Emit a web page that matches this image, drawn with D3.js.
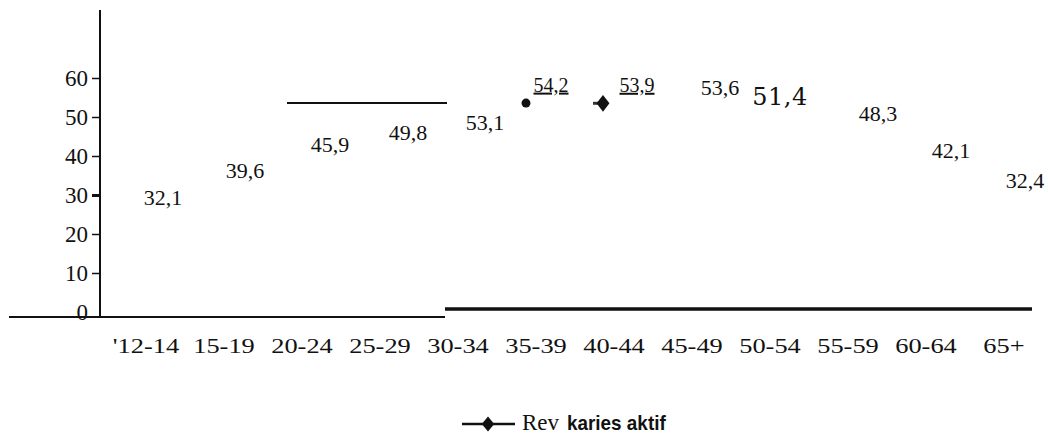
<!DOCTYPE html>
<html>
<head>
<meta charset="utf-8">
<script src="https://cdn.jsdelivr.net/npm/d3@7"></script>
<style>
  html, body { margin: 0; padding: 0; background: #fff; }
  #chart { width: 1048px; height: 439px; }
  text { font-family: "Liberation Serif", "Times New Roman", serif; fill: #111; }
</style>
</head>
<body>
<div id="chart"></div>
<script>
// age groups and the prevalence of active caries (%)
const ageGroups = ["'12-14", "15-19", "20-24", "25-29", "30-34", "35-39", "40-44", "45-49", "50-54", "55-59", "60-64", "65+"];
const kariesAktif = [32.1, 39.6, 45.9, 49.8, 53.1, 54.2, 53.9, 53.6, 51.4, 48.3, 42.1, 32.4];
const valueLabels = ["32,1", "39,6", "45,9", "49,8", "53,1", "54,2", "53,9", "53,6", "51,4", "48,3", "42,1", "32,4"];
const yTicks = [0, 10, 20, 30, 40, 50, 60];
const legendParts = ["Rev", "karies aktif"];

function draw() {
  const W = 1048, H = 439;
  d3.select("#chart").selectAll("svg").remove();

  const svg = d3.select("#chart")
    .append("svg")
    .attr("width", W)
    .attr("height", H)
    .attr("viewBox", `0 0 ${W} ${H}`);

  const x = d3.scaleBand()
    .domain(ageGroups)
    .range([107, 1043])
    .padding(0);

  const y = d3.scaleLinear()
    .domain([0, 60])
    .range([312, 78]);

  const cx = d => x(d) + x.bandwidth() / 2;

  // label nudges (layout only), relative to the point position
  const labelNudge = [[17, 18], [21, 20], [28, 19], [28, 22], [27, 25], [15, -9],
                      [23, -10], [28, -8], [10, -7], [30, -3], [25, 10], [21, 2]];

  // y axis
  const yAxis = svg.append("g")
    .attr("transform", "translate(100,0)")
    .call(d3.axisLeft(y).tickValues(yTicks).tickSize(8).tickPadding(4));
  yAxis.select(".domain").remove();
  yAxis.selectAll(".tick line")
    .attr("stroke", "#111")
    .attr("stroke-width", d => d === 30 ? 3 : 1.5)
    .attr("opacity", d => d === 0 ? 0 : 1);
  yAxis.selectAll(".tick text")
    .style("font-family", "'Liberation Serif', serif")
    .style("font-size", "23px")
    .attr("fill", "#111");

  svg.append("line")
    .attr("x1", 100).attr("x2", 100)
    .attr("y1", 10).attr("y2", y(0) + 6)
    .attr("stroke", "#111").attr("stroke-width", 2);

  // baseline, drawn in two pieces like the original
  const split = x("30-34") + 26;
  svg.append("line")
    .attr("x1", 9).attr("x2", split)
    .attr("y1", y(0) + 5).attr("y2", y(0) + 5)
    .attr("stroke", "#111").attr("stroke-width", 2);
  svg.append("line")
    .attr("x1", split).attr("x2", x("65+") + x.bandwidth() - 11)
    .attr("y1", y(0) - 3).attr("y2", y(0) - 3)
    .attr("stroke", "#111").attr("stroke-width", 3.5);

  // upper rule segment
  svg.append("line")
    .attr("x1", x("20-24") + 24).attr("x2", split + 2)
    .attr("y1", y(53.6)).attr("y2", y(53.6))
    .attr("stroke", "#111").attr("stroke-width", 2);

  // x axis labels
  const xAxis = svg.append("g")
    .attr("transform", "translate(0,353)")
    .call(d3.axisBottom(x).tickSize(0).tickPadding(0));
  xAxis.select(".domain").remove();
  xAxis.selectAll(".tick text")
    .attr("y", 0).attr("dy", 0)
    .attr("transform", "scale(1.2,1)")
    .style("font-family", "'Liberation Serif', serif")
    .style("font-size", "22px")
    .attr("fill", "#111");

  // markers that are still visible
  const markers = svg.append("g");
  markers.append("circle")
    .attr("cx", cx(ageGroups[5]) - 10)
    .attr("cy", y(kariesAktif[5]) + 2.5)
    .attr("r", 4.5)
    .attr("fill", "#111");
  const dx6 = cx(ageGroups[6]) - 11, dy6 = y(kariesAktif[6]) + 1.5;
  markers.append("line")
    .attr("x1", dx6 - 10).attr("x2", dx6)
    .attr("y1", dy6).attr("y2", dy6)
    .attr("stroke", "#333").attr("stroke-width", 3);
  markers.append("path")
    .attr("d", d3.symbol(d3.symbolDiamond, 100)())
    .attr("transform", `translate(${dx6},${dy6}) scale(1.2,0.9)`)
    .attr("fill", "#111");

  // value labels
  svg.append("g")
    .selectAll("text")
    .data(kariesAktif)
    .join("text")
    .attr("x", (d, i) => cx(ageGroups[i]) + labelNudge[i][0])
    .attr("y", (d, i) => y(d) + labelNudge[i][1])
    .attr("text-anchor", "middle")
    .style("font-size", (d, i) => i === 8 ? "24px" : (i === 5 || i === 6) ? "20px" : "22px")
    .style("font-family", (d, i) => i === 8 ? "'DejaVu Serif', serif" : "'Liberation Serif', serif")
    .style("letter-spacing", (d, i) => i === 8 ? "0.5px" : "0")
    .style("text-decoration", (d, i) => (i === 5 || i === 6) ? "underline" : "none")
    .text((d, i) => valueLabels[i]);

  // legend
  const lg = svg.append("g").attr("transform", "translate(462,424)");
  lg.append("line")
    .attr("x1", 0).attr("x2", 53)
    .attr("stroke", "#111").attr("stroke-width", 2.5);
  lg.append("path")
    .attr("d", d3.symbol(d3.symbolDiamond, 80)())
    .attr("transform", "translate(26,0) scale(1.3,0.9)")
    .attr("fill", "#111");
  lg.append("text")
    .attr("x", 60).attr("y", 6)
    .style("font-size", "23px")
    .text(legendParts[0]);
  lg.append("text")
    .attr("x", 105).attr("y", 6)
    .attr("transform", "translate(105,0) scale(0.9,1) translate(-105,0)")
    .style("font-family", "'Liberation Sans', Arial, sans-serif")
    .style("font-weight", "bold")
    .style("font-size", "21px")
    .text(legendParts[1]);
}

draw();
</script>
</body>
</html>
